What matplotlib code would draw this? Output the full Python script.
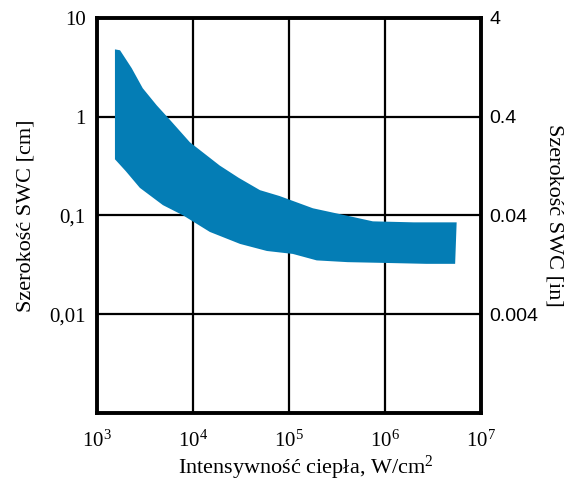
import matplotlib
matplotlib.use('Agg')
import matplotlib.pyplot as plt
from matplotlib.ticker import FixedLocator, FixedFormatter, NullLocator

plt.rcParams['font.family'] = ['Liberation Serif', 'DejaVu Serif']
plt.rcParams['mathtext.fontset'] = 'custom'
plt.rcParams['mathtext.rm'] = 'Liberation Serif'

# band of SWC width vs heat intensity
x_upper = [1.54e3, 1.74e3, 2.3e3, 3.0e3, 4.2e3, 5.75e3, 9.3e3, 1.9e4,
           3.0e4, 5.0e4, 8.0e4, 1.78e5, 4.3e5, 7.5e5, 2.0e6, 5.6e6]
y_upper = [4.8, 4.7, 3.1, 1.94, 1.3, 0.93, 0.55, 0.32,
           0.24, 0.18, 0.157, 0.118, 0.098, 0.087, 0.085, 0.085]
x_lower = [1.54e3, 2.0e3, 2.8e3, 4.87e3, 7.9e3, 1.5e4, 3.1e4, 5.9e4,
           1.1e5, 1.95e5, 4.1e5, 1.0e6, 2.7e6, 5.4e6]
y_lower = [0.37, 0.28, 0.19, 0.127, 0.1, 0.068, 0.0514, 0.0436,
           0.0407, 0.035, 0.0336, 0.033, 0.0323, 0.0323]

x_ticks = [1e3, 1e4, 1e5, 1e6, 1e7]
x_labels = [r'$\mathregular{10^3}$', r'$\mathregular{10^4}$', r'$\mathregular{10^5}$',
            r'$\mathregular{10^6}$', r'$\mathregular{10^7}$']
y_ticks = [10, 1, 0.1, 0.01]
y_labels = ['10', '1', '0,1', '0,01']
y2_ticks = [4, 0.4, 0.04, 0.004]
y2_labels = ['4', '0.4', '0.04', '0.004']

band_color = '#047db5'

fig = plt.figure(figsize=(5.67, 4.84), dpi=100)
ax = fig.add_axes([0.171, 0.147, 0.677, 0.816])

# closed polygon: upper edge left->right, lower edge right->left
px = x_upper + x_lower[::-1]
py = y_upper + y_lower[::-1]
ax.fill(px, py, color=band_color, lw=0, zorder=3)

ax.set_xscale('log')
ax.set_yscale('log')
ax.set_xlim(1e3, 1e7)
ax.set_ylim(1e-3, 10)

ax.xaxis.set_major_locator(FixedLocator(x_ticks))
ax.xaxis.set_major_formatter(FixedFormatter(x_labels))
ax.xaxis.set_minor_locator(NullLocator())
ax.yaxis.set_major_locator(FixedLocator(y_ticks))
ax.yaxis.set_major_formatter(FixedFormatter(y_labels))
ax.yaxis.set_minor_locator(NullLocator())
ax.tick_params(axis='y', length=0, labelsize=15, pad=8)
ax.tick_params(axis='x', length=0, labelsize=15, pad=13)

for xv in x_ticks[1:-1]:
    ax.axvline(xv, color='black', lw=1.6, zorder=2)
for yv in y_ticks[1:]:
    ax.axhline(yv, color='black', lw=1.6, zorder=2)

for s in ax.spines.values():
    s.set_linewidth(2.8)
    s.set_zorder(4)

ax.set_xlabel(r'Intensywność ciepła, W/cm$\mathregular{^2}$', fontsize=16)
ax.xaxis.set_label_coords(0.545, -0.104)
ax.set_ylabel('Szerokość SWC [cm]', fontsize=16, labelpad=10)

ax2 = ax.twinx()
ax2.set_yscale('log')
ax2.set_ylim(4e-4, 4)
ax2.yaxis.set_major_locator(FixedLocator(y2_ticks))
ax2.yaxis.set_major_formatter(FixedFormatter(y2_labels))
ax2.yaxis.set_minor_locator(NullLocator())
ax2.tick_params(length=0, labelsize=14, pad=6)
for lab in ax2.get_yticklabels():
    lab.set_family('Liberation Sans')
ax2.set_ylabel('Szerokość SWC [in]', fontsize=16, rotation=270, labelpad=18)
for s in ax2.spines.values():
    s.set_visible(False)

fig.savefig('out.png', dpi=100)
